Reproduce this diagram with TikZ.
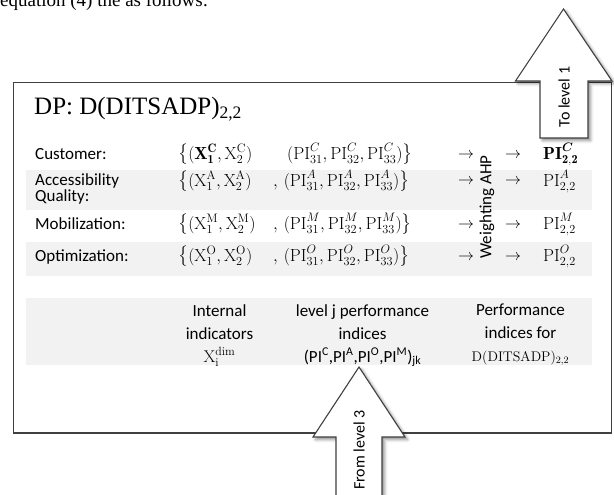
\RequirePackage{fix-cm}
\documentclass[tikz,border=0pt]{standalone}
\usepackage{amsmath}
\usepackage{fontspec}
\setsansfont{Carlito}
\newfontfamily\tnr{Liberation Serif}
\usetikzlibrary{shadows.blur}
\definecolor{boxline}{HTML}{404040}
\definecolor{band}{HTML}{F2F2F2}
\tikzset{
  lbl/.style={font={\sffamily\fontsize{17}{16}\selectfont}, inner sep=0pt, anchor=base west},
  mth/.style={font={\fontsize{17.5}{17.5}\selectfont}, inner sep=0pt, anchor=base west},
  arr/.style={font={\fontsize{16}{16}\selectfont}, inner sep=0pt, anchor=base west},
  foot/.style={font={\sffamily\fontsize{17}{23}\selectfont}, inner sep=0pt, anchor=north, align=center},
  bandfill/.style={fill=band, draw=none},
  frame/.style={draw=boxline, line width=1.1pt},
  blockarrow/.style={draw=boxline, fill=white, line width=1.1pt, line join=miter,
    blur shadow={shadow xshift=2.5pt, shadow yshift=-2.5pt, shadow blur radius=3pt, shadow opacity=45}},
  arrlabel/.style={font={\sffamily\fontsize{16}{16}\selectfont}, inner sep=0pt, rotate=90}
}
\begin{document}
\begin{tikzpicture}[x=1pt,y=-1pt]
\useasboundingbox (0,0) rectangle (614,495);
\clip (0,0) rectangle (614,495);

% cut-off text line at the top
\node[font={\tnr\fontsize{19}{19}\selectfont}, anchor=base west, inner sep=0pt] (eq) at (0,6.5) {equation (4) the as follows:};

% shaded bands
\path[bandfill] (25.5,170) rectangle (592,210);
\path[bandfill] (25.5,242) rectangle (592,276);
\path[bandfill] (25.5,298) rectangle (592,365);

% frame
\draw[frame] (13.5,82.5) rectangle (611.5,433);

% title
\node[font={\tnr\fontsize{25}{25}\selectfont}, anchor=base west, inner sep=0pt] (title) at (34,115) {DP: D(DITSADP)\textsubscript{2,2}};

% labels
\node[lbl] (cust) at (35,159) {Customer:};
\node[lbl, anchor=north west, align=left] (acc) at (35,173) {Accessibility\\Quality:};
\node[lbl] (mob) at (35,229) {Mobilization:};
\node[lbl] (opt) at (35,261) {Optimization:};

% indicator sets
\node[mth] (s1) at (178,159) {$\big\{(\mathbf{X}^{\mathbf{C}}_{\mathbf{1}},\mathrm{X}^{\mathrm{C}}_{2})$};
\node[mth] (s2) at (178,186) {$\big\{(\mathrm{X}^{\mathrm{A}}_{1},\mathrm{X}^{\mathrm{A}}_{2})$};
\node[mth] (s3) at (178,229) {$\big\{(\mathrm{X}^{\mathrm{M}}_{1},\mathrm{X}^{\mathrm{M}}_{2})$};
\node[mth] (s4) at (178,261) {$\big\{(\mathrm{X}^{\mathrm{O}}_{1},\mathrm{X}^{\mathrm{O}}_{2})$};

% performance indices
\node[mth] (p1) at (287,159) {$(\mathrm{PI}^{C}_{31},\mathrm{PI}^{C}_{32},\mathrm{PI}^{C}_{33})\big\}$};
\node[mth] (p2) at (273,186) {$,\,(\mathrm{PI}^{A}_{31},\mathrm{PI}^{A}_{32},\mathrm{PI}^{A}_{33})\big\}$};
\node[mth] (p3) at (273,229) {$,\,(\mathrm{PI}^{M}_{31},\mathrm{PI}^{M}_{32},\mathrm{PI}^{M}_{33})\big\}$};
\node[mth] (p4) at (273,261) {$,\,(\mathrm{PI}^{O}_{31},\mathrm{PI}^{O}_{32},\mathrm{PI}^{O}_{33})\big\}$};

% arrows
\node[arr] (a11) at (458,158) {$\rightarrow$};
\node[arr] (a21) at (458,185) {$\rightarrow$};
\node[arr] (a31) at (458,228) {$\rightarrow$};
\node[arr] (a41) at (458,260) {$\rightarrow$};
\node[arr] (a12) at (505,158) {$\rightarrow$};
\node[arr] (a22) at (505,185) {$\rightarrow$};
\node[arr] (a32) at (505,228) {$\rightarrow$};
\node[arr] (a42) at (505,260) {$\rightarrow$};

\node[font={\sffamily\fontsize{17}{17}\selectfont}, inner sep=0pt, rotate=90] (weight) at (487,207) {Weighting AHP};

% results
\node[mth] (r1) at (543,159) {$\mathbf{PI}^{\boldsymbol{C}}_{\mathbf{2,2}}$};
\node[mth] (r2) at (543,186) {$\mathrm{PI}^{A}_{2,2}$};
\node[mth] (r3) at (543,229) {$\mathrm{PI}^{M}_{2,2}$};
\node[mth] (r4) at (543,261) {$\mathrm{PI}^{O}_{2,2}$};

% footer
\node[foot] (f1) at (219.5,304) {Internal\\indicators\\{\fontsize{17}{17}\selectfont$\mathrm{X}_{\mathrm{i}}^{\mathrm{dim}}$}};
\node[foot] (f2) at (362.5,304) {level j performance\\indices\\(PI\textsuperscript{C},PI\textsuperscript{A},PI\textsuperscript{O},PI\textsuperscript{M})\textsubscript{jk}};
\node[foot] (f3) at (520.5,304) {Performance\\indices for\\{\rmfamily\fontsize{14}{14}\selectfont D(DITSADP)$_{2,2}$}};

% block arrows
\draw[blockarrow] (540,138) -- (540,81) -- (515.5,81) -- (563.5,9) -- (612,81) -- (588,81) -- (588,138) -- cycle;
\node[arrlabel] (tolevel) at (564,97) {To level 1};

\draw[blockarrow] (336,505) -- (336,437) -- (313,437) -- (359,367) -- (405,437) -- (382,437) -- (382,505) -- cycle;
\node[arrlabel] (fromlevel) at (359,450) {From level 3};
\end{tikzpicture}
\end{document}
